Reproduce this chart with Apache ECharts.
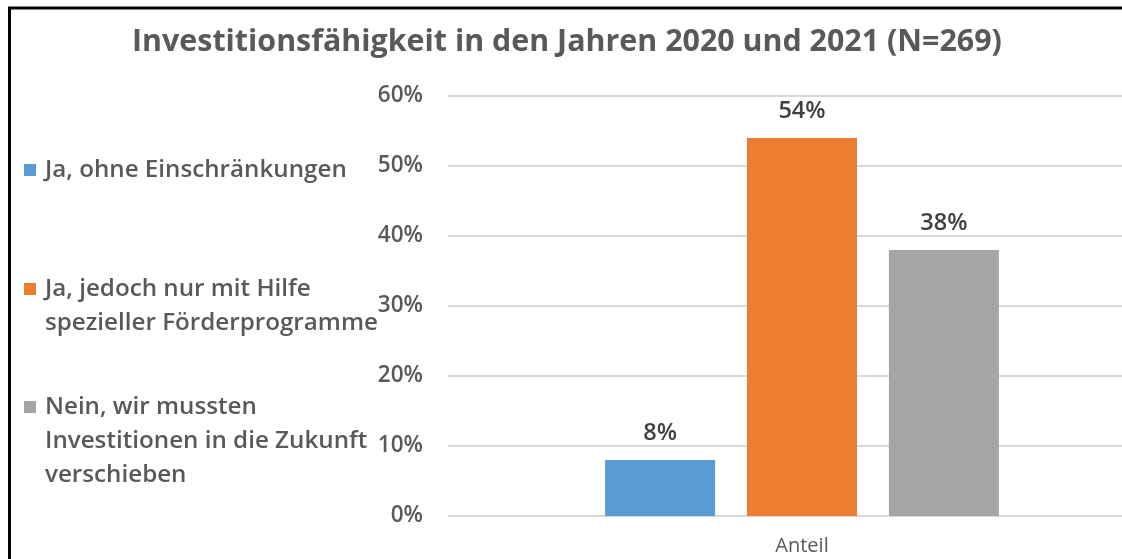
<!DOCTYPE html>
<html>
<head>
<meta charset="UTF-8">
<title>Investitionsfähigkeit</title>
<script src="https://cdn.jsdelivr.net/npm/echarts@6/dist/echarts.min.js"></script>
<style>
	html, body { margin: 0; padding: 0; background: #fff; overflow: hidden; }
	#chart { width: 1122px; height: 559px; }
</style>
</head>
<body>
<div id="chart"></div>
<script type="text/javascript">
	// Daten
	var categories = ['Anteil'];
	var seriesNames = [
		'Ja, ohne Einschränkungen',
		'Ja, jedoch nur mit Hilfe spezieller Förderprogramme',
		'Nein, wir mussten Investitionen in die Zukunft verschieben'
	];
	// Legendentext, zeilenweise wie im Original umbrochen
	var legendLines = [
		['Ja, ohne Einschränkungen'],
		['Ja, jedoch nur mit Hilfe', 'spezieller Förderprogramme'],
		['Nein, wir mussten', 'Investitionen in die Zukunft', 'verschieben']
	];
	var values = [8, 54, 38];
	var colors = ['#5b9bd5', '#ed7d31', '#a5a5a5'];
	var yTicks = [0, 10, 20, 30, 40, 50, 60];

	var font = '"Open Sans", "Noto Sans", sans-serif';
	var textColor = '#595959';

	var myChart = echarts.init(document.getElementById('chart'));

	// eine Legende pro Eintrag, damit die Abstände wie im Original sind
	var legendTops = [158, 277, 395];
	var legends = [];
	var series = [];
	for (var i = 0; i < seriesNames.length; i++) {
		(function(idx) {
			var rich = {
				sq: { width: 12, height: 12, backgroundColor: colors[idx] },
				gap: { width: 9 },
				ind: { width: 21 },
				t: { fontFamily: font, fontSize: 24.2, fontWeight: 600, color: textColor, lineHeight: 34 }
			};
			legends.push({
				data: [seriesNames[idx]],
				orient: 'vertical',
				left: 19,
				top: legendTops[idx],
				padding: 0,
				icon: 'none',
				itemWidth: 0,
				itemHeight: 0,
				selectedMode: false,
				textStyle: { color: textColor, rich: rich },
				formatter: function() {
					var lines = legendLines[idx];
					var out = '{sq|}{gap|}{t|' + lines[0] + '}';
					for (var k = 1; k < lines.length; k++) {
						out += '\n{ind|}{t|' + lines[k] + '}';
					}
					return out;
				}
			});
		})(i);

		series.push({
			name: seriesNames[i],
			type: 'bar',
			data: [values[i]],
			barWidth: 110,
			barGap: '29%',
			itemStyle: { color: colors[i] },
			label: {
				show: true,
				position: 'top',
				distance: 15,
				formatter: '{c}%',
				fontFamily: font,
				fontSize: 23.5,
				fontWeight: 600,
				color: '#404040'
			}
		});
	}

	var option = {
		animation: false,
		title: {
			text: 'Investitionsfähigkeit in den Jahren 2020 und 2021 (N=269)',
			left: 127,
			top: 22,
			textStyle: {
				fontFamily: font,
				fontSize: 30.4,
				fontWeight: 'bold',
				color: textColor
			}
		},
		legend: legends,
		// Zeichenfläche ragt rechts über den Bildrand hinaus (Original ist abgeschnitten)
		grid: {
			left: 448,
			width: 708,
			top: 96,
			bottom: 43,
			outerBoundsMode: 'none'
		},
		xAxis: {
			type: 'category',
			data: categories,
			axisLine: { show: false },
			axisTick: { show: false },
			axisLabel: {
				margin: 20,
				fontFamily: font,
				fontSize: 20,
				color: textColor
			}
		},
		yAxis: {
			type: 'value',
			min: yTicks[0],
			max: yTicks[yTicks.length - 1],
			interval: 10,
			axisLine: { show: false },
			axisTick: { show: false },
			axisLabel: {
				margin: 25,
				formatter: '{value}%',
				fontFamily: font,
				fontSize: 22.5,
				fontWeight: 600,
				color: textColor
			},
			splitLine: { lineStyle: { color: '#d9d9d9', width: 2 } }
		},
		graphic: [{
			type: 'line',
			silent: true,
			shape: { x1: 9.5, y1: 8, x2: 9.5, y2: 600 },
			style: { stroke: '#000', lineWidth: 3 }
		}, {
			type: 'line',
			silent: true,
			shape: { x1: 8, y1: 8, x2: 1200, y2: 8 },
			style: { stroke: '#000', lineWidth: 3 }
		}],
		series: series
	};

	myChart.setOption(option);
</script>
</body>
</html>
